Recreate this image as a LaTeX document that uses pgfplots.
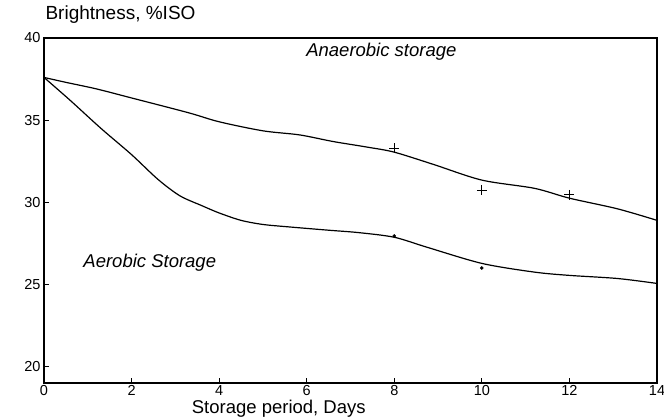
\documentclass[border=0pt]{standalone}
\usepackage{fontspec}
\setmainfont{Liberation Sans}
\usepackage{pgfplots}
\pgfplotsset{compat=1.18}
\begin{document}
\begin{tikzpicture}
\begin{axis}[name=ax, scale only axis, width=613pt, height=345pt,
  xmin=0, xmax=14, ymin=19, ymax=40,
  xtick={0,2,...,14}, ytick={20,25,...,40},
  tick align=inside, major tick length=5pt,
  xtick pos=bottom, ytick pos=left,
  axis line style={line width=1.8pt},
  tick style={line width=0.8pt, black},
  /pgf/number format/assume math mode=true,
  ticklabel style={font=\fontsize{14.5}{15}\selectfont},
  xticklabel style={inner sep=1pt, yshift=-1pt},
  yticklabel style={xshift=0pt},
  xlabel={Storage period, Days},
  xlabel style={font=\fontsize{18.5}{20}\selectfont, inner sep=0pt, at={(axis description cs:0.383,0)}, anchor=center, yshift=-25.3pt},
  clip=false]
\addplot[black, line width=1.2pt, smooth, tension=0.5] coordinates {
 (0,37.6) (0.5,37.3) (1.2,36.9) (2,36.35) (3.3,35.45) (4,34.9) (5,34.35) (5.84,34.1)
 (6.6,33.7) (7.4,33.35) (8,33.05) (8.9,32.3) (10,31.35) (11.2,30.85) (12,30.25) (13.1,29.6) (14,28.9)};
\addplot[black, line width=1.2pt, smooth, tension=0.5] coordinates {
 (0,37.6) (0.6,36.2) (1.3,34.5) (2,32.9) (2.6,31.4) (3.1,30.4) (3.6,29.8) (4,29.35) (4.5,28.9)
 (5,28.65) (5.6,28.5) (6.5,28.3) (7.2,28.15) (8,27.87) (8.74,27.27) (10,26.28) (11.2,25.75) (12,25.55) (13.1,25.36) (14,25.06)};
\addplot[black, only marks, mark=+, mark size=5pt, line width=0.9pt] coordinates {(8,33.3) (10,30.75) (12,30.45)};
\addplot[black, only marks, mark=*, mark size=1.6pt] coordinates {(8,27.95) (10,26.0)};
\node[anchor=west, font=\fontsize{18.5}{20}\selectfont\itshape] at (axis cs:5.91,39.15) {Anaerobic storage};
\node[anchor=west, font=\fontsize{18.5}{20}\selectfont\itshape] at (axis cs:0.82,26.34) {Aerobic Storage};
\node[anchor=base west, font=\fontsize{19}{20}\selectfont] at ([shift={(-2pt,18pt)}]rel axis cs:0,1) {Brightness, \%ISO};
\end{axis}
\pgfresetboundingbox
\path[use as bounding box] ([shift={(-44pt,-34pt)}]ax.south west) rectangle ([shift={(7pt,38pt)}]ax.north east);
\end{tikzpicture}
\end{document}
